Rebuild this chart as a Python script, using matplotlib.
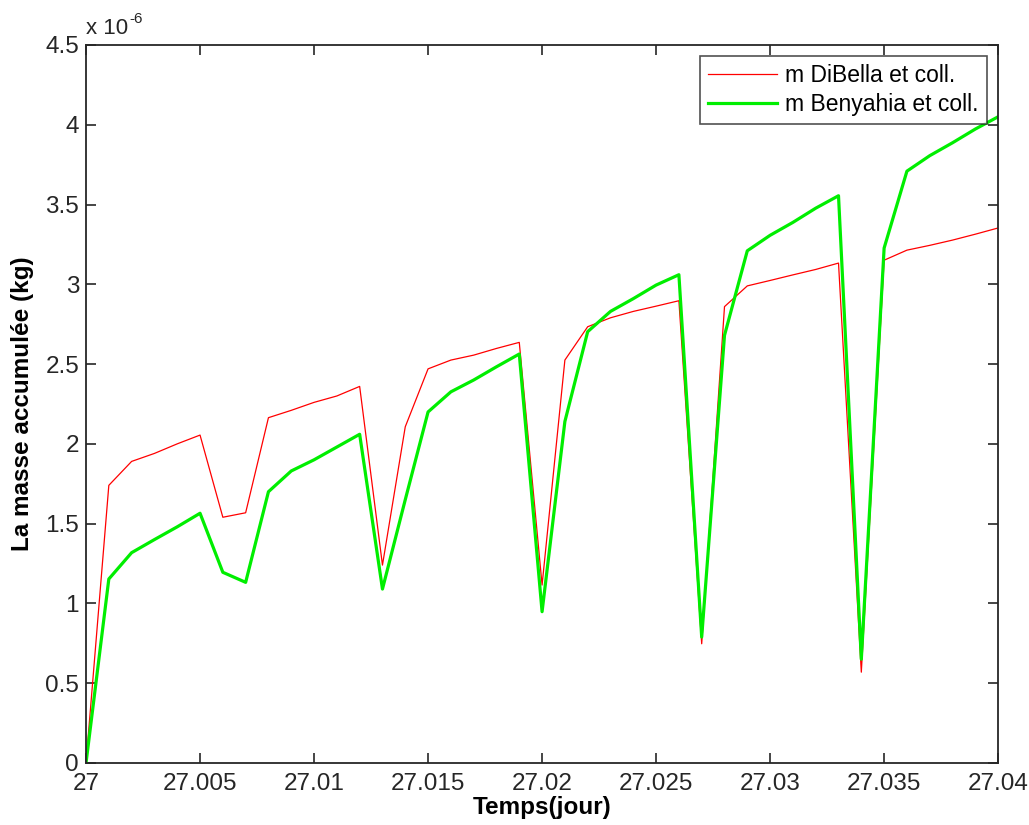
import numpy as np
import matplotlib
matplotlib.use('Agg')
import matplotlib.pyplot as plt

# time axis: 27 -> 27.04 jours, pas de 0.001
t = 27 + np.arange(41) * 0.001

# masse accumulée (x 1e-6 kg)
m_dibella = [0.0, 1.74, 1.89, 1.94, 2.0, 2.055, 1.54, 1.568, 2.164, 2.21,
             2.26, 2.30, 2.36, 1.24, 2.107, 2.47, 2.525, 2.556, 2.598, 2.636,
             1.115, 2.525, 2.734, 2.79, 2.83, 2.863, 2.897, 0.747, 2.86, 2.99,
             3.024, 3.059, 3.093, 3.133, 0.569, 3.151, 3.214, 3.244, 3.277, 3.314,
             3.353]
m_benyahia = [0.0, 1.153, 1.318, 1.40, 1.48, 1.565, 1.195, 1.132, 1.70, 1.83,
              1.90, 1.98, 2.06, 1.09, 1.65, 2.20, 2.326, 2.40, 2.483, 2.563,
              0.948, 2.14, 2.703, 2.83, 2.91, 2.995, 3.06, 0.789, 2.68, 3.21,
              3.307, 3.388, 3.477, 3.555, 0.65, 3.227, 3.709, 3.806, 3.887, 3.973,
              4.05]

xticks = [27, 27.005, 27.01, 27.015, 27.02, 27.025, 27.03, 27.035, 27.04]
xticklabels = ['27', '27.005', '27.01', '27.015', '27.02', '27.025', '27.03', '27.035', '27.04']
yticks = [0, 0.5, 1, 1.5, 2, 2.5, 3, 3.5, 4, 4.5]
yticklabels = ['0', '0.5', '1', '1.5', '2', '2.5', '3', '3.5', '4', '4.5']

plt.rcParams['font.family'] = ['Liberation Sans', 'DejaVu Sans']

fig = plt.figure(figsize=(10.29, 8.25), dpi=100)
ax = fig.add_axes([0.0836, 0.0752, 0.8864, 0.8703])

ax.plot(t, m_dibella, color='#ff0000', linewidth=0.9, label='m DiBella et coll.')
ax.plot(t, m_benyahia, color='#00ee00', linewidth=2.3, label='m Benyahia et coll.')

ax.set_xlim(27, 27.04)
ax.set_ylim(0, 4.5)
ax.set_xticks(xticks)
ax.set_xticklabels(xticklabels)
ax.set_yticks(yticks)
ax.set_yticklabels(yticklabels)
ax.tick_params(direction='in', top=True, right=True, length=7, width=1.2,
               labelsize=17.5, colors='#262626')
ax.tick_params(axis='x', pad=7)
ax.tick_params(axis='y', pad=5)
for s in ax.spines.values():
    s.set_color('#262626')
    s.set_linewidth(1.3)

ax.set_xlabel('Temps(jour)', fontsize=17.5, fontweight='bold', labelpad=1)
ax.set_ylabel('La masse accumulée (kg)', fontsize=17.5, fontweight='bold', labelpad=8)
ax.text(0.0, 1.008, 'x 10', transform=ax.transAxes, fontsize=16,
        color='#262626', ha='left', va='bottom')
ax.text(0.047, 1.027, '-6', transform=ax.transAxes, fontsize=11,
        color='#262626', ha='left', va='bottom')

leg = ax.legend(loc='upper right', fontsize=16.5, frameon=True, fancybox=False,
                borderaxespad=0.5, handlelength=3.0, labelspacing=0.25,
                borderpad=0.35, handletextpad=0.35)
leg.get_frame().set_edgecolor('#262626')
leg.get_frame().set_linewidth(1.2)

fig.savefig('out.png', dpi=100)
